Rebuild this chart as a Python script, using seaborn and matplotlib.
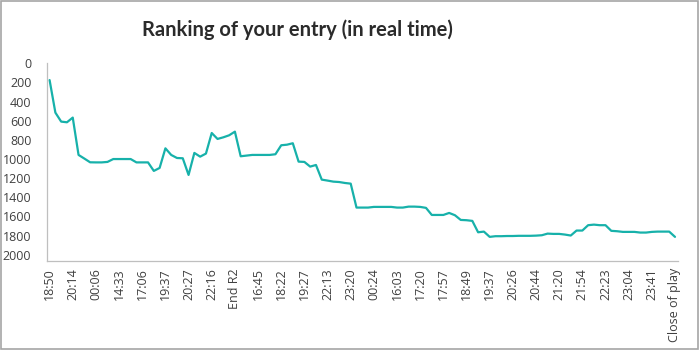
import matplotlib
matplotlib.use("Agg")
import matplotlib.pyplot as plt
import seaborn as sns
import pandas as pd
from matplotlib.patches import Rectangle

# Rank of the entry at each update (lower number = better rank)
ranks = [
    175, 515, 609, 616, 567, 957, 995, 1034, 1035, 1035,
    1030, 1000, 1000, 1000, 1000, 1035, 1035, 1035, 1124, 1093,
    888, 957, 989, 992, 1166, 936, 975, 943, 728, 790,
    773, 752, 714, 971, 964, 957, 957, 957, 957, 950,
    856, 850, 835, 1027, 1030, 1079, 1062, 1215, 1225, 1236,
    1240, 1250, 1257, 1507, 1507, 1507, 1500, 1500, 1500, 1500,
    1507, 1507, 1497, 1497, 1500, 1510, 1584, 1584, 1584, 1563,
    1587, 1636, 1639, 1646, 1765, 1758, 1813, 1806, 1806, 1804,
    1804, 1802, 1802, 1802, 1800, 1796, 1779, 1782, 1782, 1789,
    1799, 1747, 1747, 1691, 1685, 1691, 1691, 1750, 1754, 1761,
    1761, 1761, 1768, 1768, 1761, 1758, 1758, 1758, 1813,
]

# Labels shown on the time axis (every fourth update)
time_labels = [
    "18:50", "20:14", "00:06", "14:33", "17:06", "19:37", "20:27",
    "22:16", "End R2", "16:45", "18:22", "19:27", "22:13", "23:20",
    "00:24", "16:03", "17:20", "17:57", "18:49", "19:37", "20:26",
    "20:44", "21:20", "21:54", "22:23", "23:04", "23:41", "Close of play",
]
label_step = 4

y_ticks = list(range(0, 2001, 200))

df = pd.DataFrame({"step": range(len(ranks)), "rank": ranks})

sns.set_style("white")
plt.rcParams["font.family"] = ["Open Sans", "DejaVu Sans"]

fig = plt.figure(figsize=(6.99, 3.5), dpi=100)
ax = fig.add_axes([0.0668, 0.2543, 0.9030, 0.5648])

sns.lineplot(data=df, x="step", y="rank", ax=ax, color="#17B1AA",
             linewidth=1.6, legend=False)

n = len(ranks)
ax.set_xlim(-0.5, n - 0.5)
ax.set_ylim(2065, 0)

text_color = "#404040"
axis_color = "#BFBFBF"

ax.set_yticks(y_ticks)
ax.set_yticklabels([str(v) for v in y_ticks], fontsize=9, color=text_color)

ax.set_xticks(range(0, n, label_step))
ax.set_xticklabels(time_labels, rotation=90, fontsize=9, color=text_color)
ax.set_xticks([i - 0.5 for i in range(n + 1)], minor=True)

ax.tick_params(axis="x", which="major", length=0, pad=5)
ax.tick_params(axis="x", which="minor", length=4, width=0.8,
               color=axis_color, direction="out")
ax.tick_params(axis="y", length=4, width=0.8, color=axis_color,
               direction="out", pad=7)

ax.set_xlabel("")
ax.set_ylabel("")
for side in ("top", "right"):
    ax.spines[side].set_visible(False)
for side in ("left", "bottom"):
    ax.spines[side].set_color(axis_color)
    ax.spines[side].set_linewidth(0.9)

fig.text(297 / 699, 1 - 30 / 350, "Ranking of your entry (in real time)",
         ha="center", va="center", fontsize=14.5, fontweight="bold",
         family=["Lato", "DejaVu Sans"], color="#2B2B2B")

fig.patches.append(Rectangle((0.001, 0.002), 0.997, 0.996,
                             transform=fig.transFigure, fill=False,
                             edgecolor="#A6A6A6", linewidth=1.2))

fig.savefig("out.png", dpi=100)
